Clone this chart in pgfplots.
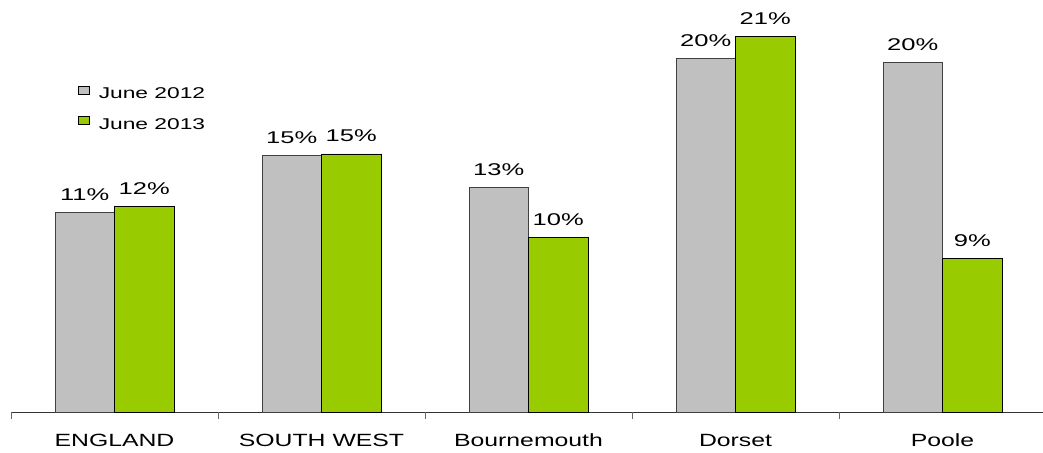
\documentclass[border=0pt]{standalone}
\usepackage{pgfplots}
\pgfplotsset{compat=1.18}
\usepackage{graphicx}
\usepackage{fontspec}
\setmainfont{Liberation Sans}
\definecolor{barGray}{HTML}{C0C0C0}
\definecolor{barGreen}{HTML}{99CC00}
\newcommand{\sx}[2]{\scalebox{#1}[1]{#2}}
\begin{document}
\begin{tikzpicture}
\begin{axis}[
  scale only axis,
  width=1032pt, height=412pt,
  xmin=-0.5, xmax=4.4855,
  ymin=0, ymax=23.41,
  clip=false,
  ybar=0pt, bar width=59.5pt,
  axis x line*=bottom, axis y line=none,
  x axis line style={black!80, line width=0.9pt},
  xtick={0,1,2,3,4},
  major tick length=0pt,
  xticklabels={\sx{1.4}{ENGLAND},\sx{1.4}{SOUTH WEST},\sx{1.4}{Bournemouth},\sx{1.4}{Dorset},\sx{1.4}{Poole}},
  xticklabel style={anchor=base, yshift=-34.7pt, font=\fontsize{17.7}{20}\selectfont},
  extra x ticks={-0.5,0.5,1.5,2.5,3.5},
  extra x tick labels={},
  extra x tick style={tick align=outside, major tick length=7pt, tick style={black!60, line width=0.8pt}},
  ytick=\empty,
  point meta=explicit symbolic,
  nodes near coords={\sx{1.5}{\pgfplotspointmeta}},
  nodes near coords style={anchor=base, yshift=12pt, font=\fontsize{17}{20}\selectfont, text=black},
  legend image code/.code={\draw[#1, draw=black, line width=0.8pt] (0pt,1pt) rectangle (11pt,9pt);},
  legend cell align=left,
  legend style={draw=none, fill=none, inner sep=0pt, outer sep=0pt,
    at={(axis description cs:0.0649,0.7358)}, anchor=west,
    row sep=13.7pt, column sep=9pt,
    nodes={inner sep=0pt, text height=11pt, text depth=3pt},
    font=\fontsize{15.6}{18}\selectfont},
]
\addplot[fill=barGray, draw=black!75, line width=0.9pt] coordinates {
  (0,11.35) [11\%]
  (1,14.60) [15\%]
  (2,12.78) [13\%]
  (3,20.10) [20\%]
  (4,19.87) [20\%]
};
\addlegendentry{\sx{1.46}{June 2012}}
\addplot[fill=barGreen, draw=black, line width=0.9pt] coordinates {
  (0,11.70) [12\%]
  (1,14.66) [15\%]
  (2,9.94) [10\%]
  (3,21.36) [21\%]
  (4,8.75) [9\%]
};
\addlegendentry{\sx{1.46}{June 2013}}
\end{axis}
\pgfresetboundingbox
\useasboundingbox (-11pt,-40pt) rectangle (1032pt,412pt);
\end{tikzpicture}
\end{document}
